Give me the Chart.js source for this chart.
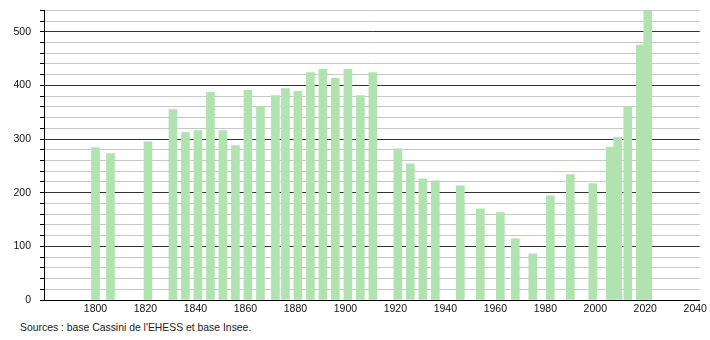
<!DOCTYPE html>
<html>
<head>
<meta charset="utf-8">
<script src="https://cdn.jsdelivr.net/npm/chart.js@4/dist/chart.umd.min.js"></script>
<style>
  html, body { margin: 0; padding: 0; background: #fff; overflow: hidden; }
  #wrap { position: relative; width: 710px; height: 340px; overflow: hidden; }
  #chart-box { position: absolute; left: 0; top: -5px; width: 710px; height: 323px; }
  #source {
    position: absolute; left: 20px; top: 322px;
    font-family: "Liberation Sans", Arial, sans-serif; font-size: 10.4px; color: #222;
  }
</style>
</head>
<body>
<div id="wrap">
  <div id="chart-box"><canvas id="popChart"></canvas></div>
  <div id="source">Sources : base Cassini de l'EHESS et base Insee.</div>
</div>
<script>
// 年（国勢調査）
const years = [1800, 1806, 1821, 1831, 1836, 1841, 1846, 1851, 1856, 1861, 1866,
  1872, 1876, 1881, 1886, 1891, 1896, 1901, 1906, 1911, 1921, 1926, 1931, 1936,
  1946, 1954, 1962, 1968, 1975, 1982, 1990, 1999, 2006, 2009, 2013, 2018, 2021];

// 人口
const population = [284, 273, 295, 355, 312, 316, 387, 316, 288, 391, 360,
  381, 394, 389, 424, 430, 413, 430, 381, 424, 282, 254, 226, 222,
  213, 170, 163, 114, 86, 194, 234, 217, 285, 303, 361, 475, 538];

// 軸の目盛り
const yearTicks = [1800, 1820, 1840, 1860, 1880, 1900, 1920, 1940, 1960, 1980, 2000, 2020, 2040];
const popLabelStep = 100;
const popGridStep = 20;

function drawPopChart() {
  const ctx = document.getElementById('popChart');
  new Chart(ctx, {
    type: 'bar',
    data: {
      datasets: [{
        data: years.map((y, i) => ({ x: y, y: population[i] })),
        backgroundColor: 'rgb(176, 227, 176)',
        borderWidth: 0,
        barThickness: 8
      }]
    },
    options: {
      responsive: true,
      maintainAspectRatio: false,
      animation: false,
      layout: { padding: { top: 4, right: 10, left: 0, bottom: 0 } },
      plugins: {
        legend: { display: false },
        tooltip: { enabled: false }
      },
      scales: {
        x: {
          type: 'linear',
          min: 1779.4,
          max: 2041.8,
          offset: false,
          grid: { display: false, drawTicks: false },
          border: { display: true, color: '#000', width: 1 },
          afterBuildTicks: function(scale) {
            scale.ticks = yearTicks.map(v => ({ value: v }));
          },
          afterFit: function(scale) {
            scale.height = 18;
          },
          ticks: {
            autoSkip: false,
            maxRotation: 0,
            padding: 3,
            color: '#111',
            font: { family: '"Liberation Sans", Arial, sans-serif', size: 10.5 },
            callback: function(value) { return String(value); }
          }
        },
        y: {
          min: 0,
          max: 540,
          grid: {
            color: function(c) {
              return c.tick && c.tick.value % popLabelStep === 0 ? '#333' : '#c8c8c8';
            },
            lineWidth: 1,
            drawTicks: true,
            tickLength: 4,
            tickColor: '#000'
          },
          border: { display: true, color: '#000', width: 1 },
          afterFit: function(scale) {
            scale.width = 44;
          },
          ticks: {
            stepSize: popGridStep,
            autoSkip: false,
            padding: 9,
            color: '#111',
            font: { family: '"Liberation Sans", Arial, sans-serif', size: 10.5 },
            callback: function(value) {
              return value % popLabelStep === 0 ? String(value) : '';
            }
          }
        }
      }
    }
  });
}

drawPopChart();
</script>
</body>
</html>
